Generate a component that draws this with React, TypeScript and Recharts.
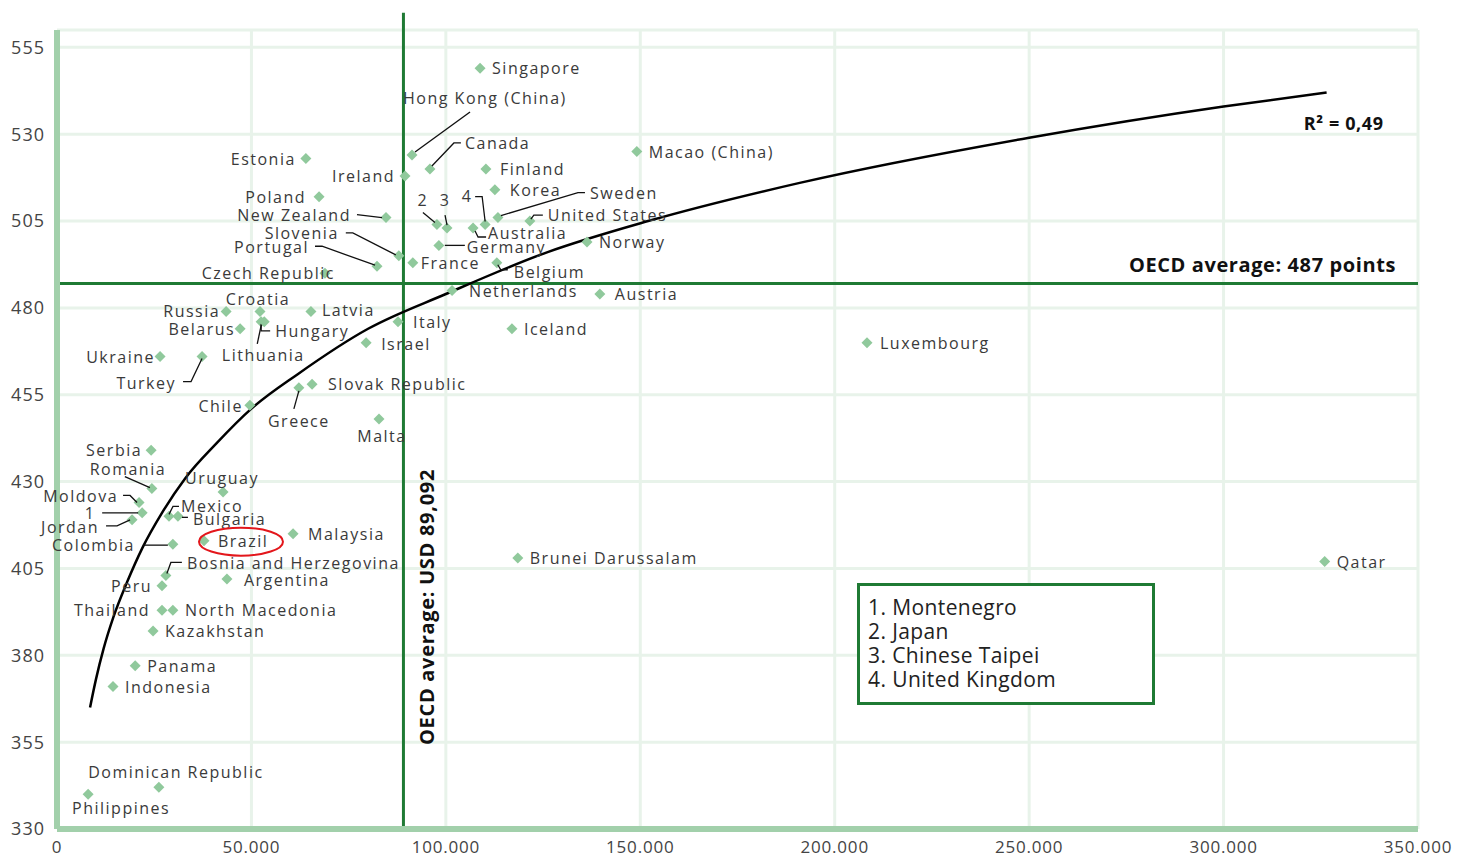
import React from "react";
import {
  ComposedChart,
  Scatter,
  Line,
  XAxis,
  YAxis,
  CartesianGrid,
  ReferenceLine,
  ReferenceDot,
} from "recharts";

// PISA reading score vs cumulative expenditure per student (USD)
const countries = [
  "Singapore", "Hong Kong (China)", "Canada", "Finland", "Korea", "Sweden",
  "United States", "United Kingdom", "Japan", "Chinese Taipei", "Australia",
  "Germany", "Norway", "Macao (China)", "Estonia", "Ireland", "Poland",
  "New Zealand", "Slovenia", "Portugal", "Czech Republic", "France", "Belgium",
  "Netherlands", "Austria", "Italy", "Iceland", "Israel", "Luxembourg",
  "Croatia", "Russia", "Latvia", "Belarus", "Hungary", "Lithuania", "Ukraine",
  "Turkey", "Slovak Republic", "Greece", "Chile", "Malta", "Serbia", "Romania",
  "Uruguay", "Moldova", "Montenegro", "Jordan", "Mexico", "Bulgaria",
  "Colombia", "Brazil", "Malaysia", "Bosnia and Herzegovina", "Peru",
  "Argentina", "Thailand", "North Macedonia", "Kazakhstan", "Panama",
  "Indonesia", "Dominican Republic", "Philippines", "Brunei Darussalam", "Qatar",
];

const spending = [
  108800, 91300, 95900, 110300, 112600, 113400,
  121600, 110100, 97700, 100300, 107000,
  98200, 136300, 149100, 64000, 89500, 67400,
  84600, 87900, 82300, 68900, 91500, 113100,
  101600, 139600, 87700, 117000, 79500, 208300,
  52200, 43500, 65300, 47100, 52500, 53300, 26500,
  37300, 65600, 62200, 49600, 82800, 24200, 24400,
  42700, 21100, 21900, 19300, 28800, 31100,
  29800, 37800, 60700, 28000, 27000,
  43700, 27000, 29800, 24700, 20100,
  14400, 26200, 8000, 118500, 326000,
];

const reading = [
  549, 524, 520, 520, 514, 506,
  505, 504, 504, 503, 503,
  498, 499, 525, 523, 518, 512,
  506, 495, 492, 490, 493, 493,
  485, 484, 476, 474, 470, 470,
  479, 479, 479, 474, 476, 476, 466,
  466, 458, 457, 452, 448, 439, 428,
  427, 424, 421, 419, 420, 420,
  412, 413, 415, 403, 400,
  402, 393, 393, 387, 377,
  371, 342, 340, 408, 407,
];

// logarithmic trend line
const trendSpending = [
  8500, 10000, 12000, 14500, 18000, 22000, 27000, 33000, 41000, 50000,
  62000, 80000, 100000, 126000, 152000, 191000, 250000, 300000, 326500,
];
const trendReading = [
  365, 373, 382, 391, 401, 411, 421, 431, 441, 451,
  461, 474, 484, 496, 505, 516, 529, 538, 542,
];

const xTicks = [0, 50000, 100000, 150000, 200000, 250000, 300000, 350000];
const yTicks = [330, 355, 380, 405, 430, 455, 480, 505, 530, 555];

const oecdSpending = 89092;
const oecdReading = 487;
const rSquared = "0,49";
const highlighted = "Brazil";

const numbered: Record<string, string> = {
  Montenegro: "1",
  Japan: "2",
  "Chinese Taipei": "3",
  "United Kingdom": "4",
};
const footnotes = ["1. Montenegro", "2. Japan", "3. Chinese Taipei", "4. United Kingdom"];

const FONT = "'Open Sans', 'DejaVu Sans', sans-serif";
const DARK_GREEN = "#1f7a34";
const AXIS_GREEN = "#a2d0ab";
const GRID_GREEN = "#e8f3ea";
const POINT_GREEN = "#90c99c";

type Place = {
  dx?: number;
  dy?: number;
  anchor?: "start" | "middle" | "end";
  leader?: number[][];
};

// label offsets (pixels) relative to each marker
const placement: Record<string, Place> = {
  "Hong Kong (China)": { dx: -9, dy: -57, leader: [[3, -3], [58, -43]] },
  Canada: { dx: 35, dy: -26, leader: [[2, -3], [24, -26], [31, -26]] },
  Finland: { dx: 14 },
  Korea: { dx: 15 },
  Sweden: { dx: 92, dy: -25, leader: [[3, -2], [80, -25], [87, -25]] },
  "United States": { dx: 18, dy: -6, leader: [[1, -2], [4, -6], [13, -6]] },
  "United Kingdom": { dx: -18, dy: -29, anchor: "middle", leader: [[0, -3], [-3, -28], [-10, -28]] },
  Japan: { dx: -14, dy: -25, anchor: "middle", leader: [[-14, -12], [-2, -2]] },
  "Chinese Taipei": { dx: -2, dy: -28, anchor: "middle", leader: [[-2, -13], [0, -3]] },
  Australia: { dx: 15, dy: 5, leader: [[2, 3], [5, 9], [13, 9]] },
  Germany: { dx: 28, dy: 2, leader: [[6, 0], [26, 0]] },
  Belgium: { dx: 17, dy: 9, leader: [[1, 2], [4, 7], [11, 7]] },
  Netherlands: { dx: 17 },
  Austria: { dx: 15 },
  Italy: { dx: 15 },
  Israel: { dx: 15, dy: 1 },
  Estonia: { dx: -10, anchor: "end" },
  Ireland: { dx: -10, anchor: "end" },
  Poland: { dx: -13, anchor: "end" },
  "New Zealand": { dx: -35, dy: -3, anchor: "end", leader: [[-29, -3], [-4, 0]] },
  Slovenia: { dx: -60, dy: -23, anchor: "end", leader: [[-53, -23], [-46, -23], [-3, -1]] },
  Portugal: { dx: -68, dy: -19, anchor: "end", leader: [[-62, -20], [-55, -20], [-2, -1]] },
  "Czech Republic": { dx: 10, anchor: "end" },
  France: { dx: 8 },
  Russia: { dx: -6, anchor: "end" },
  Croatia: { dx: -2, dy: -12, anchor: "middle" },
  Latvia: { dx: 11, dy: -1 },
  Hungary: { dx: 14, dy: 9, leader: [[0, 2], [0, 9], [9, 9]] },
  Lithuania: { dx: -1, dy: 33, anchor: "middle", leader: [[-7, 22], [-3, 3]] },
  Belarus: { dx: -5, anchor: "end" },
  Ukraine: { dx: -5, anchor: "end" },
  Turkey: { dx: -26, dy: 26, anchor: "end", leader: [[0, 2], [-11, 25], [-19, 25]] },
  "Slovak Republic": { dx: 16 },
  Greece: { dx: 0, dy: 33, anchor: "middle", leader: [[0, 3], [-5, 21]] },
  Chile: { dx: -7, dy: 1, anchor: "end" },
  Malta: { dx: 3, dy: 17, anchor: "middle" },
  Serbia: { dx: -9, anchor: "end" },
  Romania: { dx: -24, dy: -20, anchor: "middle", leader: [[-27, -12], [-2, -1]] },
  Uruguay: { dx: -1, dy: -14, anchor: "middle" },
  Moldova: { dx: -21, dy: -6, anchor: "end", leader: [[-16, -7], [-9, -7], [-2, 0]] },
  Montenegro: { dx: -52, dy: 0, anchor: "middle", leader: [[-40, 0], [-4, 0]] },
  Jordan: { dx: -33, dy: 7, anchor: "end", leader: [[-26, 6], [-15, 6], [-2, 0]] },
  Mexico: { dx: 12, dy: -10, leader: [[0, -2], [4, -10], [10, -10]] },
  Bulgaria: { dx: 15, dy: 3, leader: [[4, 1], [10, 1]] },
  Colombia: { dx: -38, dy: 1, anchor: "end", leader: [[-30, 1], [-5, 1]] },
  Brazil: { dx: 14 },
  Malaysia: { dx: 15 },
  "Bosnia and Herzegovina": { dx: 21, dy: -12, leader: [[1, -2], [5, -13], [16, -13]] },
  Peru: { dx: -10, anchor: "end" },
  Argentina: { dx: 17, dy: 1 },
  Thailand: { dx: -12, anchor: "end" },
  "Dominican Republic": { dx: 17, dy: -15, anchor: "middle" },
  Philippines: { dx: 33, dy: 14, anchor: "middle" },
  Luxembourg: { dx: 13 },
};

const points = countries.map((name, i) => ({ name, x: spending[i], y: reading[i] }));
const trend = trendSpending.map((x, i) => ({ x, y: trendReading[i] }));

const formatThousands = (v: number) =>
  String(v).replace(/\B(?=(\d{3})+(?!\d))/g, ".");

function CountryPoint(props: any) {
  const { cx, cy, payload } = props;
  if (cx == null || cy == null) return null;
  const p = placement[payload.name] || {};
  const dx = p.dx ?? 12;
  const dy = p.dy ?? 0;
  const r = 5.5;
  return (
    <g>
      <polygon
        points={`${cx},${cy - r} ${cx + r},${cy} ${cx},${cy + r} ${cx - r},${cy}`}
        fill={POINT_GREEN}
      />
      {p.leader && (
        <polyline
          points={p.leader.map(([a, b]) => `${cx + a},${cy + b}`).join(" ")}
          fill="none"
          stroke="#111"
          strokeWidth={1.3}
        />
      )}
      <text
        x={cx + dx}
        y={cy + dy}
        textAnchor={p.anchor ?? "start"}
        dominantBaseline="central"
        fontFamily={FONT}
        fontSize={16}
        letterSpacing={1.5}
        fill="#3a3a3a"
      >
        {numbered[payload.name] ?? payload.name}
      </text>
      {payload.name === highlighted && (
        <ellipse cx={cx + 37} cy={cy + 1} rx={42} ry={14} fill="none" stroke="#e3161b" strokeWidth={2} />
      )}
    </g>
  );
}

export default function App() {
  return (
    <div style={{ position: "absolute", left: 0, top: 0, width: 1460, height: 859, background: "#fff" }}>
      <ComposedChart width={1460} height={859} margin={{ top: 30, right: 42, bottom: 0, left: 0 }}>
        <CartesianGrid stroke={GRID_GREEN} strokeWidth={3} />
        <XAxis
          type="number"
          dataKey="x"
          domain={[0, 350000]}
          ticks={xTicks}
          interval={0}
          height={30}
          tickLine={false}
          tickSize={0}
          tickMargin={12}
          tickFormatter={formatThousands}
          axisLine={{ stroke: AXIS_GREEN, strokeWidth: 6 }}
          tick={{ fill: "#444", fontSize: 17, fontFamily: FONT, letterSpacing: 0.8 }}
        />
        <YAxis
          type="number"
          dataKey="y"
          domain={[330, 560]}
          ticks={yTicks}
          interval={0}
          width={57}
          tickLine={false}
          tickSize={0}
          tickMargin={12}
          axisLine={{ stroke: AXIS_GREEN, strokeWidth: 6 }}
          tick={{ fill: "#444", fontSize: 18, fontFamily: FONT, letterSpacing: 1 }}
        />
        <Scatter data={points} shape={CountryPoint} isAnimationActive={false} />
        <ReferenceLine
          segment={[{ x: oecdSpending, y: 330 }, { x: oecdSpending, y: 565 }]}
          ifOverflow="visible"
          stroke={DARK_GREEN}
          strokeWidth={3}
          label={(props: any) => {
            const vb = props.viewBox;
            const x = vb.x + 23;
            const y = vb.y + vb.height - 222;
            return (
              <text
                transform={`translate(${x}, ${y}) rotate(-90)`}
                textAnchor="middle"
                dominantBaseline="central"
                fontFamily={FONT}
                fontWeight={700}
                fontSize={20}
                letterSpacing={0.7}
                fill="#111"
              >
                OECD average: USD 89,092
              </text>
            );
          }}
        />
        <ReferenceLine
          y={oecdReading}
          stroke={DARK_GREEN}
          strokeWidth={3}
          label={(props: any) => {
            const vb = props.viewBox;
            return (
              <text
                x={vb.x + vb.width - 22}
                y={vb.y - 19}
                textAnchor="end"
                dominantBaseline="central"
                fontFamily={FONT}
                fontWeight={700}
                fontSize={20}
                letterSpacing={0.6}
                fill="#111"
              >
                {`OECD average: ${oecdReading} points`}
              </text>
            );
          }}
        />
        <Line
          data={trend}
          dataKey="y"
          type="monotone"
          stroke="#000"
          strokeWidth={2.5}
          dot={false}
          activeDot={false}
          isAnimationActive={false}
        />
        <ReferenceDot
          x={trendSpending[trendSpending.length - 1]}
          y={trendReading[trendReading.length - 1]}
          r={1}
          fill="none"
          stroke="none"
          label={(props: any) => {
            const vb = props.viewBox;
            return (
              <text
                x={vb.x + 58}
                y={vb.y + 31}
                textAnchor="end"
                dominantBaseline="central"
                fontFamily={FONT}
                fontWeight={700}
                fontSize={18}
                letterSpacing={0.6}
                fill="#111"
              >
                R² = {rSquared}
              </text>
            );
          }}
        />
      </ComposedChart>
      <div
        style={{
          position: "absolute",
          left: 857,
          top: 583,
          width: 284,
          height: 107,
          border: `3px solid ${DARK_GREEN}`,
          background: "#fff",
          paddingTop: 9,
          paddingLeft: 8,
          boxSizing: "content-box",
          fontFamily: FONT,
          fontSize: 21,
          lineHeight: "24px",
          color: "#222",
          letterSpacing: 0.4,
        }}
      >
        {footnotes.map((f) => (
          <div key={f}>{f}</div>
        ))}
      </div>
    </div>
  );
}
